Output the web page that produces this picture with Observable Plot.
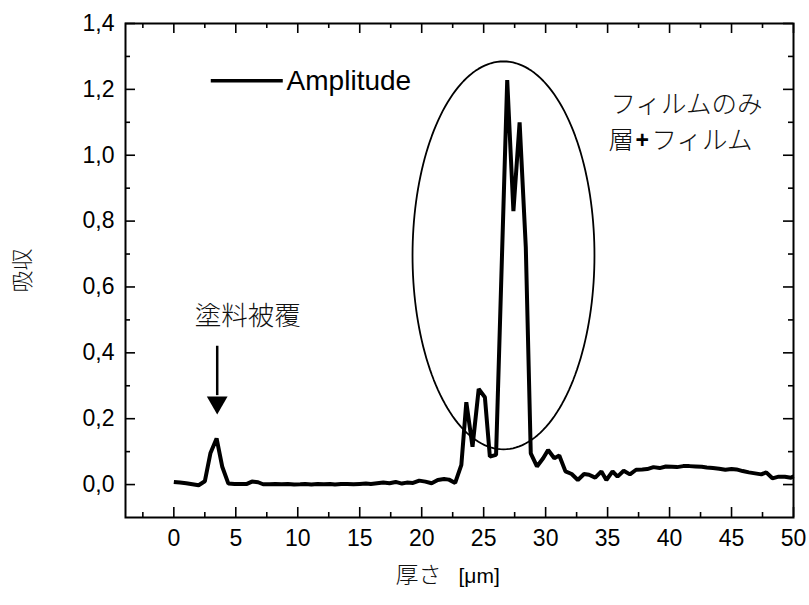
<!DOCTYPE html>
<html>
<head>
<meta charset="utf-8">
<script src="https://cdn.jsdelivr.net/npm/d3@7"></script>
<script src="https://cdn.jsdelivr.net/npm/@observablehq/plot@0.6"></script>
<style>
  html, body { margin: 0; padding: 0; background: #fff; }
</style>
</head>
<body>
<div id="chart"></div>
<script>
// ---- data ----
const thickness = [
  0.0, 0.5, 1.0, 1.5, 2.0, 2.5, 2.95, 3.45, 3.9, 4.4, 4.9, 5.4, 5.9, 6.3, 6.8, 7.2, 7.7, 8.2, 8.7, 9.2,
  9.7, 10.2, 10.6, 11.1, 11.6, 12.1, 12.6, 13.0, 13.5, 14.0, 14.5, 15.0, 15.5, 15.9, 16.4, 16.9, 17.4, 17.9, 18.4, 18.8,
  19.3, 19.8, 20.3, 20.8, 21.3, 21.8, 22.2, 22.7, 23.2, 23.6, 24.1, 24.6, 25.1, 25.5, 26.0, 26.9, 27.4, 27.9, 28.4, 28.8,
  29.3, 29.8, 30.2, 30.7, 31.1, 31.6, 32.1, 32.6, 33.1, 33.5, 34.0, 34.5, 34.9, 35.4, 35.8, 36.3, 36.8, 37.3, 37.8, 38.2,
  38.7, 39.2, 39.7, 40.2, 40.6, 41.1, 41.6, 42.1, 42.6, 43.0, 43.5, 44.0, 44.5, 45.0, 45.4, 45.9, 46.4, 46.9, 47.4, 47.8,
  48.3, 48.8, 49.3, 49.8, 50.0
];
const amplitude = [
  0.008, 0.006, 0.004, 0.001, -0.002, 0.010, 0.095, 0.140, 0.055, 0.003, 0.002, 0.002, 0.002, 0.009, 0.007, 0.001, 0.001, 0.002, 0.001, 0.002,
  0.000, 0.001, 0.002, 0.000, 0.002, 0.001, 0.002, 0.000, 0.002, 0.002, 0.001, 0.002, 0.003, 0.002, 0.004, 0.006, 0.004, 0.008, 0.003, 0.006,
  0.005, 0.012, 0.009, 0.004, 0.014, 0.017, 0.015, 0.005, 0.060, 0.250, 0.115, 0.290, 0.265, 0.085, 0.090, 1.228, 0.830, 1.100, 0.720, 0.095,
  0.055, 0.080, 0.105, 0.080, 0.088, 0.040, 0.032, 0.014, 0.032, 0.030, 0.021, 0.040, 0.014, 0.040, 0.024, 0.042, 0.031, 0.045, 0.046, 0.047,
  0.053, 0.050, 0.055, 0.054, 0.053, 0.056, 0.056, 0.055, 0.054, 0.052, 0.050, 0.048, 0.045, 0.047, 0.046, 0.041, 0.037, 0.034, 0.031, 0.037,
  0.019, 0.024, 0.024, 0.021, 0.025
];
const seriesName = "Amplitude";

const xMajorTicks = [0, 5, 10, 15, 20, 25, 30, 35, 40, 45, 50];
const xMinorTicks = [-2.5, 2.5, 7.5, 12.5, 17.5, 22.5, 27.5, 32.5, 37.5, 42.5, 47.5];
const yMajorTicks = [0, 0.2, 0.4, 0.6, 0.8, 1.0, 1.2, 1.4];
const yMinorTicks = [0.1, 0.3, 0.5, 0.7, 0.9, 1.1, 1.3];

const xTitleJa = "厚さ";
const xTitleUnit = "[μm]";
const yTitle = "吸収";
const coatingLabel = "塗料被覆";
const filmLine1 = "フィルムのみ";
const filmLine2a = "層";
const filmLine2b = "+";
const filmLine2c = "フィルム";

// annotation anchors (data units)
const ellipseSpec = {cx: 26.6, cy: 0.696, rx: 7.34, ry: 0.589};
const legendSpec = {x1: 2.98, x2: 8.79, y: 1.226, tx: 9.1};
const coatingSpec = {x: 5.97, y: 0.511};
const arrowSpec = {x: 3.5, y1: 0.42, y2: 0.27, head: 0.249};
const filmSpec = {x: 35.24, y1: 1.153, y2: 1.044, xa: 35.08, xb: 37.80, xc: 38.55};

// ---- build ----
const W = 809, H = 605;
const mL = 125, mR = 16, mT = 23, mB = 88;
const fw = W - mL - mR, fh = H - mT - mB;
const sans = "'Liberation Sans', Arial, Helvetica, sans-serif";
const cjk = "'Noto Sans CJK JP', 'Noto Sans CJK SC', sans-serif";

const rows = thickness.map((x, i) => ({x, y: amplitude[i]}));
const ellipsePts = d3.range(0, 360, 2).map(a => {
  const t = a * Math.PI / 180;
  return {x: ellipseSpec.cx + ellipseSpec.rx * Math.cos(t), y: ellipseSpec.cy + ellipseSpec.ry * Math.sin(t)};
});

const chart = Plot.plot({
  width: W, height: H,
  marginLeft: mL, marginRight: mR, marginTop: mT, marginBottom: mB,
  x: {domain: [-3.9, 50]},
  y: {domain: [-0.1, 1.4]},
  style: {fontFamily: sans, fontSize: "23px", color: "#000", background: "#fff"},
  marks: [
    Plot.axisX({ticks: xMajorTicks, tickSize: 0, tickPadding: 12, label: null, fontSize: 23, fontFamily: sans}),
    Plot.axisY({ticks: yMajorTicks, tickSize: 0, tickPadding: 11, label: null, fontSize: 23, fontFamily: sans,
      tickFormat: d => d.toFixed(1).replace(".", ",")}),
    // inward ticks on all four sides
    Plot.ruleX(xMajorTicks, {x: d => d, insetTop: fh - 10, strokeWidth: 1.6}),
    Plot.ruleX(xMajorTicks, {x: d => d, insetBottom: fh - 10, strokeWidth: 1.6}),
    Plot.ruleX(xMinorTicks, {x: d => d, insetTop: fh - 5, strokeWidth: 1.6}),
    Plot.ruleX(xMinorTicks, {x: d => d, insetBottom: fh - 5, strokeWidth: 1.6}),
    Plot.ruleY(yMajorTicks, {y: d => d, insetRight: fw - 10, strokeWidth: 1.6}),
    Plot.ruleY(yMajorTicks, {y: d => d, insetLeft: fw - 10, strokeWidth: 1.6}),
    Plot.ruleY(yMinorTicks, {y: d => d, insetRight: fw - 5, strokeWidth: 1.6}),
    Plot.ruleY(yMinorTicks, {y: d => d, insetLeft: fw - 5, strokeWidth: 1.6}),
    // ellipse annotation
    Plot.line(ellipsePts, {x: "x", y: "y", curve: "linear-closed", stroke: "#000", strokeWidth: 1.8}),
    // data line
    Plot.line(rows, {x: "x", y: "y", stroke: "#000", strokeWidth: 4, strokeLinejoin: "miter", strokeLinecap: "butt"}),
    // legend
    Plot.link([legendSpec], {x1: "x1", x2: "x2", y1: "y", y2: "y", stroke: "#000", strokeWidth: 3.5}),
    Plot.text([seriesName], {x: legendSpec.tx, y: legendSpec.y, text: d => d, textAnchor: "start",
      fontSize: 28, fontFamily: sans, fill: "#000"}),
    // coating annotation + arrow
    Plot.text([coatingLabel], {x: coatingSpec.x, y: coatingSpec.y, text: d => d, fontSize: 26.5, fontWeight: 300, fontFamily: cjk, fill: "#111"}),
    Plot.ruleX([arrowSpec], {x: "x", y1: "y1", y2: "y2", stroke: "#000", strokeWidth: 2.5}),
    Plot.dot([arrowSpec], {x: "x", y: "head", symbol: "triangle", r: 7.7, rotate: 180, fill: "#000", stroke: "none"}),
    // film annotation
    Plot.text([filmLine1], {x: filmSpec.x, y: filmSpec.y1, text: d => d, textAnchor: "start", fontSize: 25.5, fontWeight: 300, fontFamily: cjk, fill: "#111"}),
    Plot.text([filmLine2a], {x: filmSpec.xa, y: filmSpec.y2, text: d => d, textAnchor: "start", fontSize: 25.5, fontWeight: 300, fontFamily: cjk, fill: "#111"}),
    Plot.text([filmLine2b], {x: filmSpec.xb, y: filmSpec.y2, text: d => d, fontSize: 23, fontWeight: "bold", fontFamily: sans, fill: "#000"}),
    Plot.text([filmLine2c], {x: filmSpec.xc, y: filmSpec.y2, text: d => d, textAnchor: "start", fontSize: 25.5, fontWeight: 300, fontFamily: cjk, fill: "#111"}),
    // axis titles
    Plot.text([xTitleJa], {frameAnchor: "bottom", dx: -18, dy: 65, text: d => d, textAnchor: "end", fontSize: 23, fontWeight: 300, fontFamily: cjk, fill: "#111"}),
    Plot.text([xTitleUnit], {frameAnchor: "bottom", dx: -1, dy: 65, text: d => d, textAnchor: "start", fontSize: 21, fontFamily: sans, fill: "#000"}),
    Plot.text([yTitle], {frameAnchor: "left", dx: -103, dy: 22, rotate: -90, text: d => d, fontSize: 22, fontWeight: 300, fontFamily: cjk, fill: "#111"}),
    Plot.frame({stroke: "#000", strokeWidth: 2})
  ]
});
document.getElementById("chart").appendChild(chart);
</script>
</body>
</html>
